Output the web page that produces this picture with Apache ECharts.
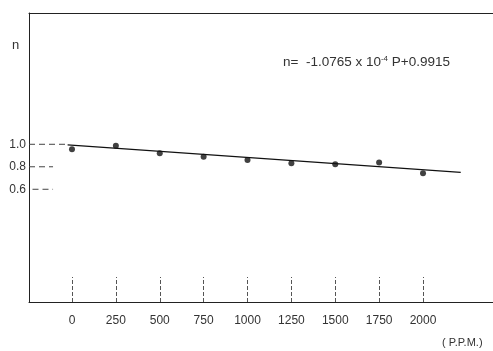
<!DOCTYPE html>
<html>
<head>
<meta charset="utf-8">
<script src="https://cdn.jsdelivr.net/npm/echarts@6/dist/echarts.min.js"></script>
<style>html,body{margin:0;padding:0;background:#fff;}#c{width:493px;height:351px;}</style>
</head>
<body>
<div id="c"></div>
<script>
// Data
var ppm = [0, 250, 500, 750, 1000, 1250, 1500, 1750, 2000];
var nValues = [0.956, 0.988, 0.920, 0.890, 0.860, 0.831, 0.822, 0.838, 0.742];
var xTickLabels = [0, 250, 500, 750, 1000, 1250, 1500, 1750, 2000];
var yTickLabels = [1.0, 0.8, 0.6];
// fitted line end points
var fitP = [-25, 2215];
var fitN = [0.994, 0.751];
// short dashed reference marks at the y labels
var refLevels = [1.0, 0.8, 0.6];
var refStart = [-245, -245, -225];
var refEnd = [-30, -108, -108];

var series = [];
series.push({
  type: 'line', data: fitP.map(function(p, i){ return [p, fitN[i]]; }),
  symbol: 'none', lineStyle: {color: '#111', width: 1.3}, z: 2, silent: true
});
refLevels.forEach(function(lv, i){
  series.push({
    type: 'line', data: [[refStart[i], lv], [refEnd[i], lv]],
    symbol: 'none', lineStyle: {color: '#444', width: 1, type: [6, 4]}, silent: true
  });
});
series.push({
  type: 'scatter', data: ppm.map(function(p, i){ return [p, nValues[i]]; }),
  symbol: 'circle', symbolSize: 6, itemStyle: {color: '#111'}, z: 3
});

var chart = echarts.init(document.getElementById('c'), null, {renderer: 'canvas'});
chart.setOption({
  animation: false,
  backgroundColor: '#fff',
  textStyle: {fontFamily: 'Liberation Sans'},
  grid: {left: 29, top: 13, width: 470, height: 289, show: false,
    containLabel: false, outerBoundsMode: 'none'},
  xAxis: [{
    type: 'value', min: -245, max: 2433,
    axisLine: {show: true, onZero: false, lineStyle: {color: '#222', width: 1}},
    axisTick: {show: true, inside: true, length: 25, customValues: xTickLabels, lineStyle: {color: '#555', width: 1, type: [4, 2]}},
    axisLabel: {show: true, customValues: xTickLabels, margin: 13, color: '#333', fontSize: 12, fontFamily: 'Liberation Sans',
      formatter: function(v){ return String(v); }},
    splitLine: {show: false}
  }, {
    type: 'value', position: 'top', min: -245, max: 2433,
    axisLine: {show: true, onZero: false, lineStyle: {color: '#222', width: 1}},
    axisTick: {show: false}, axisLabel: {show: false}, splitLine: {show: false}
  }],
  yAxis: {
    type: 'value', min: -0.402, max: 2.167,
    axisLine: {show: true, onZero: false, lineStyle: {color: '#222', width: 1}},
    axisTick: {show: false},
    axisLabel: {show: true, customValues: yTickLabels, margin: 3, color: '#333', fontSize: 12, fontFamily: 'Liberation Sans',
      formatter: function(v){ return v.toFixed(1); }},
    splitLine: {show: false}
  },
  graphic: [
    {type: 'text', left: 12, top: 39, style: {text: 'n', fontSize: 13, fill: '#333', fontFamily: 'Liberation Sans'}},
    {type: 'text', left: 283, top: 55, style: {
      text: '{a|n=  -1.0765 x 10}{s|-4}{a| P+0.9915}',
      rich: {a: {fontSize: 13.5, fill: '#333', fontFamily: 'Liberation Sans'}, s: {fontSize: 8, fill: '#333', verticalAlign: 'top', padding: [0,0,7,0], fontFamily: 'Liberation Sans'}}
    }},
    {type: 'text', left: 442, top: 337, style: {text: '( P.P.M.)', fontSize: 11, fill: '#333', fontFamily: 'Liberation Sans'}}
  ],
  series: series
});
</script>
</body>
</html>
